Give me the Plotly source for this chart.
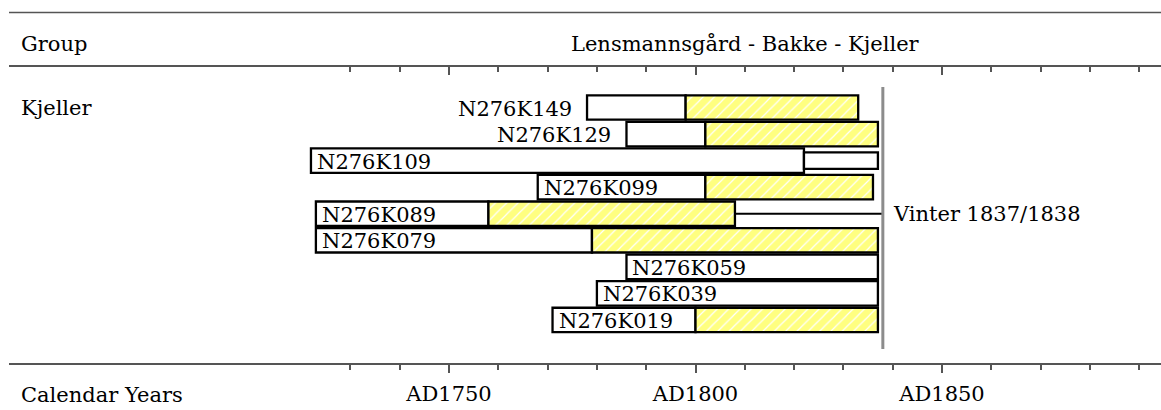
import plotly.graph_objects as go

# ---------------- data (years AD) ----------------
samples = ["N276K149", "N276K129", "N276K109", "N276K099", "N276K089",
           "N276K079", "N276K059", "N276K039", "N276K019"]
first_ring = [1778, 1786, 1722, 1768, 1723, 1723, 1786, 1780, 1771]
sapwood_start = [1798, 1802, None, 1802, 1758, 1779, None, None, 1800]
last_ring = [1833, 1837, 1822, 1836, 1808, 1837, 1837, 1837, 1837]
# K109: estimated extension (thin box); K089: connector to felling line
ext_sample = "N276K109"
ext_range = [1822, 1837]
link_sample = "N276K089"
felling_year = 1838
felling_label = "Vinter 1837/1838"
group_name = "Lensmannsgård - Bakke - Kjeller"
group_row = "Kjeller"
major_ticks = [1750, 1800, 1850]
major_text = ["AD1750", "AD1800", "AD1850"]
minor_ticks = [1730, 1740, 1760, 1770, 1780, 1790, 1810, 1820, 1830,
               1840, 1860, 1870, 1880, 1890]

FONT = "DejaVu Serif"
FS = 21
W, H = 1161, 410
ML, MR, MT, MB = 9, 0, 67, 47
PW, PH = W - ML - MR, H - MT - MB
OUTLINE = 2.3


def px_x(px):
    return (px - ML) / PW


def px_y(py):
    return (H - MB - py) / PH


rows = list(range(len(samples)))
heart_end = [s if s is not None else e for s, e in zip(sapwood_start, last_ring)]

fig = go.Figure()

# heartwood (white)
fig.add_trace(go.Bar(
    orientation="h", y=rows,
    x=[he - f for he, f in zip(heart_end, first_ring)], base=first_ring,
    width=0.92, marker=dict(color="white", line=dict(color="black", width=OUTLINE)),
    hoverinfo="skip"))

# sapwood (yellow hatched)
sap_rows = [r for r, s in zip(rows, sapwood_start) if s is not None]
sap_base = [s for s in sapwood_start if s is not None]
sap_len = [e - s for s, e in zip(sapwood_start, last_ring) if s is not None]
fig.add_trace(go.Bar(
    orientation="h", y=sap_rows, x=sap_len, base=sap_base, width=0.92,
    marker=dict(color="#FFFF80", line=dict(color="black", width=OUTLINE),
                pattern=dict(shape="/", fgcolor="white", bgcolor="#FFFF80",
                             size=8, solidity=0.15, fillmode="replace")),
    hoverinfo="skip"))

# thin extension box
er = samples.index(ext_sample)
fig.add_trace(go.Bar(
    orientation="h", y=[er], x=[ext_range[1] - ext_range[0]], base=[ext_range[0]],
    width=0.62, marker=dict(color="white", line=dict(color="black", width=OUTLINE)),
    hoverinfo="skip"))

# connector line
lr = samples.index(link_sample)
fig.add_trace(go.Scatter(
    x=[last_ring[lr], felling_year], y=[lr, lr], mode="lines",
    line=dict(color="black", width=2), hoverinfo="skip"))

# felling line
fig.add_trace(go.Scatter(
    x=[felling_year, felling_year], y=[-0.77, 9.09], mode="lines",
    line=dict(color="#8c8c8c", width=3), hoverinfo="skip"))

# dummy trace for top axis
fig.add_trace(go.Scatter(x=[1800], y=[0], xaxis="x2", mode="markers",
                         marker=dict(opacity=0), hoverinfo="skip"))

annotations = []
for r, name, f, he in zip(rows, samples, first_ring, heart_end):
    outside = (he - f) < 25
    annotations.append(dict(
        x=f, y=r, xref="x", yref="y", text=name, showarrow=False,
        xanchor="right" if outside else "left", yanchor="middle",
        xshift=-13 if outside else 4, yshift=-1,
        font=dict(family=FONT, size=FS, color="black")))

annotations.append(dict(x=felling_year, y=lr, xref="x", yref="y",
                        text=felling_label, showarrow=False, xanchor="left",
                        yanchor="middle", xshift=8,
                        font=dict(family=FONT, size=FS, color="black")))
annotations.append(dict(x=px_x(19), y=px_y(44), xref="paper", yref="paper",
                        text="Group", showarrow=False, xanchor="left", yanchor="middle",
                        font=dict(family=FONT, size=FS, color="black")))
annotations.append(dict(x=px_x(745), y=px_y(44), xref="paper", yref="paper",
                        text=group_name, showarrow=False, xanchor="center",
                        yanchor="middle",
                        font=dict(family=FONT, size=FS, color="black")))
annotations.append(dict(x=px_x(19), y=0, xref="paper", yref="y",
                        text=group_row, showarrow=False, xanchor="left", yanchor="middle",
                        font=dict(family=FONT, size=FS, color="black")))
annotations.append(dict(x=px_x(19), y=px_y(395), xref="paper", yref="paper",
                        text="Calendar Years", showarrow=False, xanchor="left",
                        yanchor="middle",
                        font=dict(family=FONT, size=FS, color="black")))

shapes = [dict(type="line", xref="paper", yref="paper", x0=0, x1=1,
               y0=px_y(12.5), y1=px_y(12.5), line=dict(color="#555555", width=1.5))]

xr = [1750 - (449 - ML) / 4.93, 1750 + (W - 449) / 4.93]

fig.update_layout(
    width=W, height=H, margin=dict(l=ML, r=MR, t=MT, b=MB),
    paper_bgcolor="white", plot_bgcolor="white", showlegend=False,
    barmode="overlay", annotations=annotations, shapes=shapes,
    xaxis=dict(range=xr, tickmode="array", tickvals=major_ticks, ticktext=major_text,
               ticks="outside", ticklen=8, tickwidth=1.5, tickcolor="#555555",
               ticklabelstandoff=3,
               showline=True, linecolor="#555555", linewidth=1.5,
               showgrid=False, zeroline=False, fixedrange=True,
               tickfont=dict(family=FONT, size=FS, color="black"),
               minor=dict(tickmode="array", tickvals=minor_ticks, ticks="outside",
                          ticklen=5, tickwidth=1.5, tickcolor="#555555", showgrid=False)),
    xaxis2=dict(range=xr, overlaying="x", side="top", anchor="y",
                tickmode="array", tickvals=major_ticks, showticklabels=False,
                ticks="inside", ticklen=8, tickwidth=1.5, tickcolor="#555555",
                showline=True, linecolor="#555555", linewidth=1.5,
                showgrid=False, zeroline=False, fixedrange=True,
                minor=dict(tickmode="array", tickvals=minor_ticks, ticks="inside",
                           ticklen=5, tickwidth=1.5, tickcolor="#555555", showgrid=False)),
    yaxis=dict(range=[9.62, -1.525], visible=False, fixedrange=True),
)

fig.write_html("out.html", config={"displayModeBar": False},
               post_script="document.body.style.margin='0';")
